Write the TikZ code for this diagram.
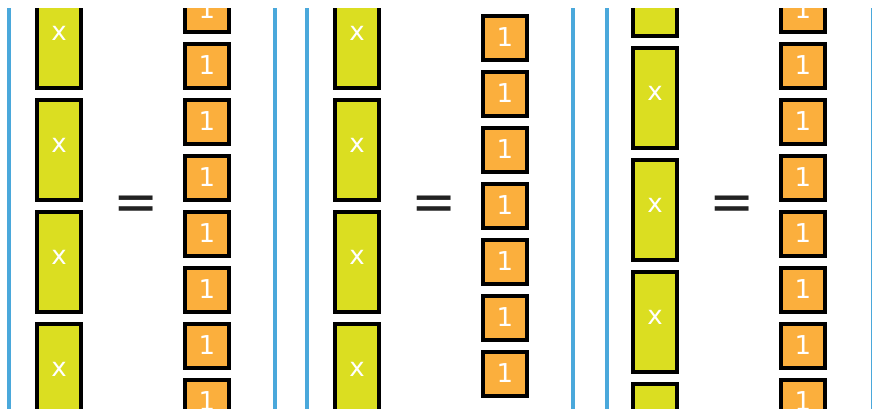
\documentclass[tikz,border=0pt]{standalone}
\usepackage{fontspec}
\setmainfont{DejaVu Sans}
\usepackage{tikz}
\definecolor{tileyellow}{RGB}{219,222,33}
\definecolor{tileorange}{RGB}{251,175,61}
\definecolor{ruleblue}{RGB}{74,168,219}
\definecolor{eqgray}{RGB}{34,34,34}

\begin{document}
\begin{tikzpicture}[x=1pt, y=-1pt,
  every node/.style={font=\fontsize{26}{30}\selectfont},
  xtile/.style={draw=black, line width=4pt, fill=tileyellow, text=white,
                minimum width=44pt, minimum height=100pt, inner sep=0pt,
                text height=10pt, text depth=6pt},
  onetile/.style={draw=black, line width=4pt, fill=tileorange, text=white,
                  minimum width=44pt, minimum height=44pt, inner sep=0pt,
                  text height=20pt, text depth=4pt},
  eqsign/.style={font=\fontsize{54}{60}\selectfont, text=eqgray, inner sep=0pt},
  divider/.style={draw=ruleblue, line width=3.5pt},
]

%% Page frame (872 x 408), content starts at y=8
\useasboundingbox (0,0) rectangle (872,408);

\begin{scope}
\clip (0,8) rectangle (872,408);

%% Panel dividers
\foreach \xl in {9, 275, 307, 573, 607, 873}{
  \draw[divider] (\xl, 0) -- (\xl, 420);
}

%% x tiles (each 2 units tall, pitch 112)
%% panel/x shift/first centre/last index
\foreach \p/\dx/\yo/\n in {1/0/38/3, 2/298/38/3, 3/596/-14/4}{
  \foreach \k in {0,...,\n}{
    \node[xtile] (x-\p-\k) at (59+\dx, \yo+112*\k) {x};
  }
}

%% unit tiles (pitch 56)
\foreach \p/\dx/\yo/\n in {1/0/10/7, 2/298/38/6, 3/596/10/7}{
  \foreach \k in {0,...,\n}{
    \node[onetile] (one-\p-\k) at (207+\dx, \yo+56*\k) {1};
  }
}

%% equals signs
\foreach \p/\dx in {1/0, 2/298, 3/596}{
  \node[eqsign] (eq-\p) at (136+\dx, 208.5) {=};
}
\end{scope}

\end{tikzpicture}
\end{document}
